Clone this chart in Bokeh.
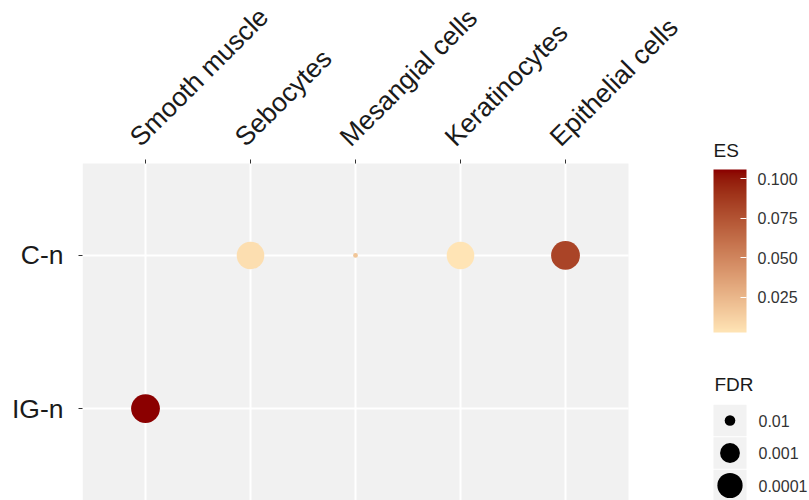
import math

import numpy as np
from bokeh.core.properties import value
from bokeh.embed import file_html
from bokeh.layouts import row
from bokeh.models import (ColorBar, ColumnDataSource, FixedTicker, LinearAxis,
                          LinearColorMapper, PrintfTickFormatter, Range1d)
from bokeh.plotting import figure
from bokeh.resources import INLINE
from bokeh.transform import transform

# ---- data -------------------------------------------------------------
cell_types = ["Smooth muscle", "Sebocytes", "Mesangial cells", "Keratinocytes", "Epithelial cells"]
groups = ["IG-n", "C-n"]  # bottom to top

point_cell = ["Smooth muscle", "Sebocytes", "Mesangial cells", "Keratinocytes", "Epithelial cells"]
point_group = ["IG-n", "C-n", "C-n", "C-n", "C-n"]
point_es = [0.1057, 0.0060, 0.0180, 0.0028, 0.0820]
point_fdr = [1.5e-5, 3e-5, 0.015, 3e-5, 1.5e-5]

es_ticks = [0.025, 0.050, 0.075, 0.100]
fdr_breaks = [0.01, 0.001, 0.0001]
fdr_break_labels = ["0.01", "0.001", "0.0001"]

FONT = "Liberation Sans"
LOW_COLOR = "#FFE4B5"
HIGH_COLOR = "#8B0000"


# ---- colour scale: gradient interpolated in CIE Lab --------------------
def _hex_to_rgb(h):
    h = h.lstrip("#")
    return [int(h[i:i + 2], 16) for i in (0, 2, 4)]


def _to_lin(c):
    c = c / 255.0
    return c / 12.92 if c <= 0.04045 else ((c + 0.055) / 1.055) ** 2.4


def _from_lin(c):
    c = 12.92 * c if c <= 0.0031308 else 1.055 * (max(c, 0) ** (1 / 2.4)) - 0.055
    return int(max(0, min(255, round(c * 255))))


WHITE = (0.95047, 1.0, 1.08883)


def _rgb_to_lab(rgb):
    r, g, b = (_to_lin(c) for c in rgb)
    x = 0.4124 * r + 0.3576 * g + 0.1805 * b
    y = 0.2126 * r + 0.7152 * g + 0.0722 * b
    z = 0.0193 * r + 0.1192 * g + 0.9505 * b

    def f(t):
        return t ** (1 / 3) if t > 216 / 24389 else (24389 / 27 * t + 16) / 116

    fx, fy, fz = f(x / WHITE[0]), f(y / WHITE[1]), f(z / WHITE[2])
    return (116 * fy - 16, 500 * (fx - fy), 200 * (fy - fz))


def _lab_to_hex(lab):
    L, a, b = lab
    fy = (L + 16) / 116
    fx = fy + a / 500
    fz = fy - b / 200

    def finv(t):
        return t ** 3 if t ** 3 > 216 / 24389 else (116 * t - 16) / (24389 / 27)

    x, y, z = finv(fx) * WHITE[0], finv(fy) * WHITE[1], finv(fz) * WHITE[2]
    r = 3.2406 * x - 1.5372 * y - 0.4986 * z
    g = -0.9689 * x + 1.8758 * y + 0.0415 * z
    bb = 0.0557 * x - 0.2040 * y + 1.0570 * z
    return "#%02x%02x%02x" % (_from_lin(r), _from_lin(g), _from_lin(bb))


lab_lo = _rgb_to_lab(_hex_to_rgb(LOW_COLOR))
lab_hi = _rgb_to_lab(_hex_to_rgb(HIGH_COLOR))
palette = [
    _lab_to_hex(tuple(lo + (hi - lo) * t for lo, hi in zip(lab_lo, lab_hi)))
    for t in np.linspace(0, 1, 256)
]
mapper = LinearColorMapper(palette=palette, low=min(point_es), high=max(point_es))

# ---- size scale: area-proportional on -log10(FDR) ----------------------
neglog = -np.log10(np.array(point_fdr))
v_min, v_max = float(neglog.min()), float(neglog.max())
PX_PER_SIZE = 4.8


def fdr_to_diameter(fdr):
    v = -math.log10(fdr)
    t = min(max((v - v_min) / (v_max - v_min), 0.0), 1.0)
    return PX_PER_SIZE * (1 + 5 * math.sqrt(t))


source = ColumnDataSource(dict(
    x=[cell_types.index(c) for c in point_cell],
    y=[groups.index(g) for g in point_group],
    es=point_es,
    fdr=point_fdr,
    diam=[fdr_to_diameter(f) for f in point_fdr],
))

# ---- geometry -----------------------------------------------------------
FIG_W, FIG_H = 700, 500
PANEL_LEFT, PANEL_RIGHT, PANEL_TOP = 82, 628, 163
PAD = 0.6  # discrete-axis expansion on each side

n_x, n_y = len(cell_types), len(groups)
x_lo, x_hi = -PAD, n_x - 1 + PAD
y_lo, y_hi = -PAD, n_y - 1 + PAD
px_per_x = (PANEL_RIGHT - PANEL_LEFT) / (x_hi - x_lo)
px_per_y = (FIG_H - PANEL_TOP) / (y_hi - y_lo)

# the frame runs to the top and right edges so the rotated names fit inside it
p = figure(
    width=FIG_W, height=FIG_H,
    x_range=Range1d(x_lo, x_lo + (FIG_W - PANEL_LEFT) / px_per_x),
    y_range=Range1d(y_lo, y_lo + FIG_H / px_per_y),
    x_axis_type=None, y_axis_type=None,
    output_backend="svg", toolbar_location=None,
    min_border_left=PANEL_LEFT, min_border_right=0, min_border_top=0, min_border_bottom=0,
)
p.outline_line_color = None
p.background_fill_color = "white"
p.border_fill_color = "white"
p.grid.visible = False

# panel background and grid lines
p.quad(left=[x_lo], right=[x_hi], bottom=[y_lo], top=[y_hi],
       fill_color="#F1F1F1", line_color=None)
xs = list(range(n_x))
ys = list(range(n_y))
p.segment(x0=xs, x1=xs, y0=[y_lo] * n_x, y1=[y_hi] * n_x, line_color="white", line_width=2)
p.segment(x0=[x_lo] * n_y, x1=[x_hi] * n_y, y0=ys, y1=ys, line_color="white", line_width=2)

# tick marks along the top edge of the panel
tick_len = 4 / px_per_y
p.segment(x0=xs, x1=xs, y0=[y_hi] * n_x, y1=[y_hi + tick_len] * n_x,
          line_color="#333333", line_width=1)

# rotated cell-type names
p.text(x=xs, y=[y_hi + 22 / px_per_y] * n_x, text=cell_types,
       x_offset=-11, angle=45, angle_units="deg",
       text_font=value(FONT), text_font_size="26.5px", text_color="#1a1a1a",
       text_align="left", text_baseline="alphabetic")

y_axis = LinearAxis(
    ticker=FixedTicker(ticks=ys),
    major_label_overrides={i: name for i, name in enumerate(groups)},
    axis_line_color=None,
    major_tick_line_color="#333333", major_tick_out=4, major_tick_in=0,
    minor_tick_line_color=None,
    major_label_text_font=FONT, major_label_text_font_size="26.5px",
    major_label_text_color="#1a1a1a", major_label_standoff=15,
)
p.add_layout(y_axis, "left")

p.scatter("x", "y", source=source, size="diam",
          fill_color=transform("es", mapper), line_color=None)

# ---- legends (y in page pixels from the top) ---------------------------
q = figure(
    width=809 - FIG_W, height=FIG_H,
    x_range=Range1d(0, 809 - FIG_W), y_range=Range1d(FIG_H, 0),
    x_axis_type=None, y_axis_type=None,
    output_backend="svg", toolbar_location=None,
    min_border=0,
)
q.outline_line_color = None
q.grid.visible = False
q.background_fill_color = "white"
q.border_fill_color = "white"

q.text(x=[13], y=[150], text=["ES"],
       text_font=value(FONT), text_font_size="19px", text_color="#1a1a1a",
       text_baseline="alphabetic", text_align="left")

cbar = ColorBar(
    color_mapper=mapper, location=(13, 168), width=33, height=163,
    padding=0, margin=0, title=None,
    ticker=FixedTicker(ticks=es_ticks), formatter=PrintfTickFormatter(format="%.3f"),
    major_label_text_font=FONT, major_label_text_font_size="16px",
    major_label_text_color="#333333", label_standoff=11,
    major_tick_line_color="white", major_tick_in=6, major_tick_out=0,
    minor_tick_line_color=None, bar_line_color=None, border_line_color=None,
    background_fill_color=None,
)
q.add_layout(cbar, "center")

# FDR size key
key_y = [420, 452.5, 485]
key_src = ColumnDataSource(dict(
    x=[29.5] * len(fdr_breaks),
    y=key_y,
    diam=[fdr_to_diameter(f) for f in fdr_breaks],
    lx=[58] * len(fdr_breaks),
    label=fdr_break_labels,
))
q.rect("x", "y", width=33, height=31.5, source=key_src,
       fill_color="#F2F2F2", line_color=None)
q.scatter("x", "y", size="diam", source=key_src, fill_color="black", line_color=None)
q.text("lx", "y", text="label", source=key_src,
       text_font=value(FONT), text_font_size="16px", text_color="#333333",
       text_baseline="middle", text_align="left")
q.text(x=[14], y=[384], text=["FDR"],
       text_font=value(FONT), text_font_size="19px", text_color="#1a1a1a",
       text_baseline="alphabetic", text_align="left")

layout = row(p, q)
open("out.html", "w").write(file_html(layout, INLINE))
